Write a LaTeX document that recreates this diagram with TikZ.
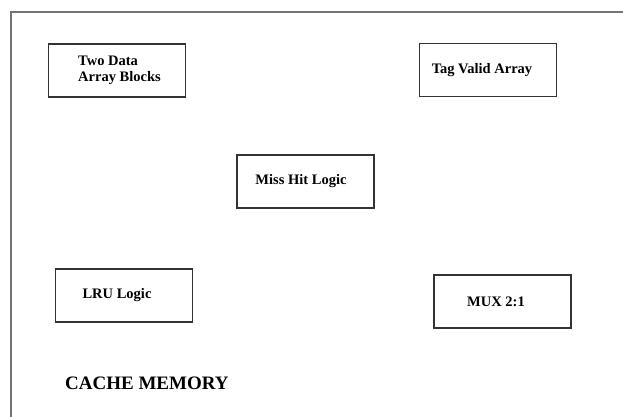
\documentclass[tikz,border=0pt]{standalone}
\usepackage{fontspec}
\setmainfont{Liberation Serif}
\begin{document}
\begin{tikzpicture}[x=1pt, y=-1pt,
    unitbox/.style={draw=black!80, line width=1.8pt, minimum width=137pt, minimum height=53pt,
                    font=\fontsize{14.5}{16}\selectfont\bfseries, inner sep=0pt}]
                % Frame
                \useasboundingbox (0,0) rectangle (623,417);
                \draw[black!55, line width=1.8pt] (11,417) -- (11,12) -- (623,12);

                % Blocks
                \node[unitbox] (data) at (117,70.5) {};
                \node[font=\fontsize{14.5}{16}\selectfont\bfseries, align=left, anchor=north west, inner sep=0pt] (datatext) at (78,55.5) {Two Data\\Array Blocks};
                \node[unitbox] (tag) at (488,70) {\hspace*{-12pt}Tag Valid Array};
                \node[unitbox] (misshit) at (305.5,181.5) {\hspace*{-9pt}Miss Hit Logic};
                \node[unitbox] (lru) at (124,295.5) {\hspace*{-14pt}LRU Logic};
                \node[unitbox] (mux) at (502.5,301.5) {\hspace*{-13pt}MUX 2:1};

                % Title
                \node[font=\fontsize{19}{22}\selectfont\bfseries, anchor=west, inner sep=0pt] (title) at (65,383) {CACHE MEMORY};
            \end{tikzpicture}
\end{document}
